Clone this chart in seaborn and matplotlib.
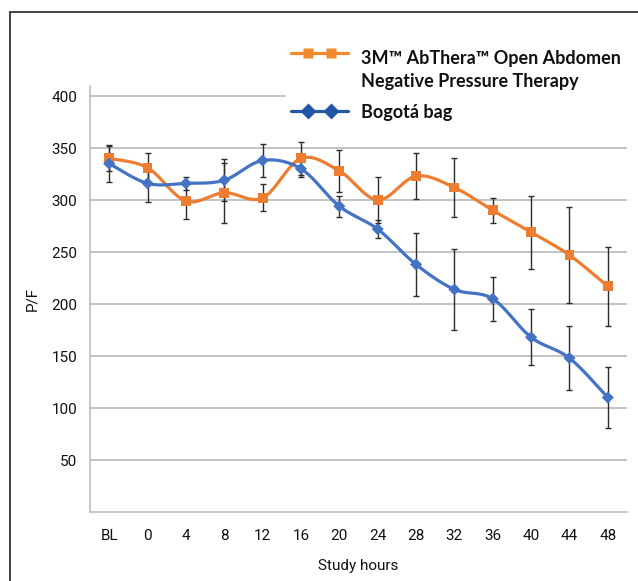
import numpy as np
import pandas as pd
import matplotlib
matplotlib.use("Agg")
import matplotlib.pyplot as plt
import seaborn as sns
from matplotlib.lines import Line2D
from matplotlib.legend_handler import HandlerLine2D
from matplotlib.patches import Rectangle

# ---- data ----
hours = ["BL", "0", "4", "8", "12", "16", "20", "24", "28", "32", "36", "40", "44", "48"]
abthera = [340, 331, 299, 307, 302, 340, 328, 300, 323, 312, 290, 269, 247, 217]
abthera_err = [12, 14, 17, 29, 13, 16, 20, 22, 22, 28, 12, 35, 46, 38]
bogota = [335, 316, 316, 319, 338, 330, 294, 272, 238, 214, 205, 168, 148, 110]
bogota_err = [18, 18, 6, 20, 16, 8, 10, 9, 30, 39, 21, 27, 31, 29]
y_ticks = [50, 100, 150, 200, 250, 300, 350, 400]

series_names = ["3M\u2122 AbThera\u2122 Open Abdomen\nNegative Pressure Therapy", "Bogot\u00e1 bag"]
ORANGE = "#ED7D31"
BLUE = "#4472C4"
LEG_ORANGE = "#F08A2C"
LEG_BLUE = "#2456A6"

df = pd.DataFrame({
    "pos": np.arange(len(hours)),
    "hour": hours,
    "abthera": abthera, "abthera_err": abthera_err,
    "bogota": bogota, "bogota_err": bogota_err,
})


def smooth_curve(y, n=40):
    """Excel-style smoothed line (Catmull-Rom Bezier through the points)."""
    y = np.asarray(y, float)
    x = np.arange(len(y), dtype=float)
    xs, ys = [], []
    for i in range(len(y) - 1):
        i0 = max(i - 1, 0)
        i3 = min(i + 2, len(y) - 1)
        p0, p1, p2, p3 = (np.array([x[k], y[k]]) for k in (i0, i, i + 1, i3))
        c1 = p1 + (p2 - p0) / 6.0
        c2 = p2 - (p3 - p1) / 6.0
        t = np.linspace(0, 1, n)[:, None]
        b = ((1 - t) ** 3) * p1 + 3 * ((1 - t) ** 2) * t * c1 + 3 * (1 - t) * t ** 2 * c2 + t ** 3 * p2
        xs.extend(b[:, 0]); ys.extend(b[:, 1])
    return np.array(xs), np.array(ys)


class InsetMarkerHandler(HandlerLine2D):
    """Full-width legend line with two markers inset from its ends."""
    def __init__(self, inset=0.9, yoff=0.0, **kw):
        super().__init__(numpoints=2, **kw)
        self.inset = inset
        self.yoff = yoff

    def create_artists(self, legend, orig_handle, xdescent, ydescent, width,
                       height, fontsize, trans):
        y = (height - ydescent) / 2 + self.yoff * fontsize
        line = Line2D([-xdescent, -xdescent + width], [y, y])
        self.update_prop(line, orig_handle, legend)
        line.set_marker("None")
        pad = self.inset * fontsize
        mk = Line2D([-xdescent + pad, -xdescent + width - pad], [y, y])
        self.update_prop(mk, orig_handle, legend)
        mk.set_linestyle("None")
        line.set_transform(trans)
        mk.set_transform(trans)
        return [line, mk]


sns.set_theme(style="white")
plt.rcParams["font.family"] = ["Roboto", "DejaVu Sans"]

fig = plt.figure(figsize=(6.38, 5.81), dpi=100)
ax = fig.add_axes([90 / 638, 1 - 512 / 581, 537 / 638, (512 - 85.6) / 581])

# figure frame (only left and top edges visible)
fig.patches.append(Rectangle((10 / 638, -0.1), 1.2, 1 - 12 / 581 + 0.1,
                             transform=fig.transFigure, fill=False,
                             edgecolor="#222222", lw=1.2, zorder=0))

for col, color, mk, ms in [("abthera", ORANGE, "s", 50), ("bogota", BLUE, "D", 38)]:
    sx, sy = smooth_curve(df[col])
    sns.lineplot(x=sx, y=sy, ax=ax, color=color, lw=2.3, sort=False,
                 estimator=None, legend=False, zorder=3)
    ax.errorbar(df["pos"], df[col], yerr=df[col + "_err"], fmt="none",
                ecolor="#2b2b2b", elinewidth=1.0, capsize=2.2, capthick=1.0, zorder=4)
    sns.scatterplot(x=df["pos"], y=df[col], ax=ax, color=color, marker=mk, s=ms,
                    edgecolor="none", linewidth=0, legend=False, zorder=5)

ax.set_xlim(-0.5, len(hours) - 0.5)
ax.set_ylim(0, 410)
ax.set_yticks(y_ticks)
ax.set_xticks(df["pos"])
ax.set_xticklabels(hours)
ax.yaxis.grid(True, color="#b3b3b3", lw=1.1)
ax.xaxis.grid(False)
for s in ["top", "right"]:
    ax.spines[s].set_visible(False)
for s in ["left", "bottom"]:
    ax.spines[s].set_color("#c0c0c0")
    ax.spines[s].set_linewidth(1.2)
ax.tick_params(axis="both", length=0, labelsize=11, colors="#111111")
ax.tick_params(axis="y", pad=9)
ax.tick_params(axis="x", pad=12)
ax.set_ylabel("P/F", fontsize=11, color="#111111")
ax.yaxis.set_label_coords(-0.095, 0.5)
ax.set_xlabel("Study hours", fontsize=11, color="#111111", labelpad=12)

h_orange = Line2D([], [], color=LEG_ORANGE, lw=2.3, marker="s", ms=7.6, mec="none")
h_blue = Line2D([], [], color=LEG_BLUE, lw=2.3, marker="D", ms=8.2, mec="none")
leg = fig.legend([h_orange, h_blue], series_names, loc="upper left",
                 bbox_to_anchor=(286 / 638, 1 - 45 / 581), bbox_transform=fig.transFigure,
                 frameon=True, fancybox=False, facecolor="white", edgecolor="white",
                 framealpha=1, handlelength=3.15, handletextpad=0.72, labelspacing=0.75,
                 borderpad=0.3, borderaxespad=0,
                 prop={"family": ["Lato", "DejaVu Sans"], "weight": "bold", "size": 13},
                 handler_map={h_orange: InsetMarkerHandler(inset=0.94, yoff=0.965),
                              h_blue: InsetMarkerHandler(inset=0.94, yoff=0.0)})
for t in leg.get_texts():
    t.set_linespacing(1.4)
    t.set_color("#111111")

fig.savefig("out.png", dpi=100)
